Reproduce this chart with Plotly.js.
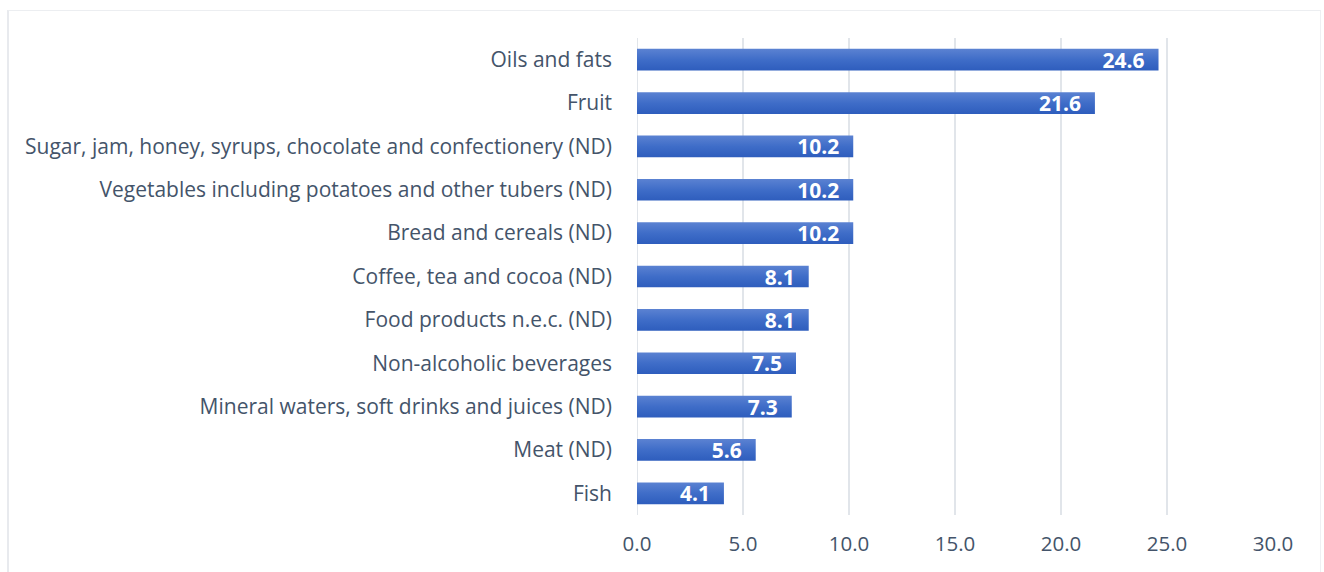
<!DOCTYPE html>
<html><head><meta charset="utf-8">
<script src="https://cdn.plot.ly/plotly-3.0.1.min.js"></script>
<style>
html,body{margin:0;padding:0;background:#fff;}
#frame{position:absolute;left:7px;top:10px;width:1311px;height:700px;border-left:2px solid #E8EAEE;border-top:1.5px solid #ECEEF1;border-right:1.5px solid #EEF0F3;}
#chart{position:absolute;left:0;top:0;width:1324px;height:572px;}
</style></head>
<body>
<div id="frame"></div>
<div id="chart"></div>
<script>
var categories = ["Oils and fats","Fruit","Sugar, jam, honey, syrups, chocolate and confectionery (ND)","Vegetables including potatoes and other tubers (ND)","Bread and cereals (ND)","Coffee, tea and cocoa (ND)","Food products n.e.c. (ND)","Non-alcoholic beverages","Mineral waters, soft drinks and juices (ND)","Meat (ND)","Fish"];
var values = [24.6,21.6,10.2,10.2,10.2,8.1,8.1,7.5,7.3,5.6,4.1];
var tickVals = [0,5,10,15,20,25,30];
var tickText = ["0.0","5.0","10.0","15.0","20.0","25.0","30.0"];

var font = "'Open Sans', sans-serif";
var trace = {
  type:'bar', orientation:'h', x: values, y: categories,
  marker:{color:'#4472C4'},
  width:0.5,
  text: values.map(function(v){return v.toFixed(1) + '\u00a0\u00a0';}),
  textposition:'inside', insidetextanchor:'end', constraintext:'none',
  textfont:{family:font, size:21, color:'#ffffff', weight:'bold'},
  hoverinfo:'none', cliponaxis:false
};
var layout = {
  width:1324, height:572,
  margin:{l:637, r:51, t:38, b:57},
  paper_bgcolor:'rgba(0,0,0,0)', plot_bgcolor:'rgba(0,0,0,0)',
  showlegend:false,
  bargap:0.5,
  xaxis:{range:[0,30], tickvals:tickVals, ticktext:tickText, showgrid:true, gridcolor:'#E1E5EA', gridwidth:2,
         zeroline:false, showline:false, ticks:'', ticklabelstandoff:14,
         tickfont:{family:font, size:20.5, color:'#44546A'}},
  yaxis:{autorange:'reversed', showgrid:false, zeroline:false, showline:false, ticks:'', ticklabelstandoff:24,
         tickfont:{family:font, size:21, color:'#44546A'}},
  shapes:[{type:'line', xref:'x', yref:'paper', x0:0, x1:0, y0:0, y1:1, line:{color:'#E1E5EA', width:2}, layer:'below'}]
};
Plotly.newPlot('chart',[trace],layout,{staticPlot:true}).then(function(gd){
  var svg = gd.querySelector('svg.main-svg');
  var ns='http://www.w3.org/2000/svg';
  var defs = svg.querySelector('defs') || svg.insertBefore(document.createElementNS(ns,'defs'), svg.firstChild);
  var lg = document.createElementNS(ns,'linearGradient');
  lg.setAttribute('id','barGrad'); lg.setAttribute('x1','0'); lg.setAttribute('y1','0'); lg.setAttribute('x2','0'); lg.setAttribute('y2','1');
  [['0','#5B82D2'],['0.5','#3F6DC8'],['1','#2E5DBD']].forEach(function(s){
    var st=document.createElementNS(ns,'stop'); st.setAttribute('offset',s[0]); st.setAttribute('stop-color',s[1]); lg.appendChild(st);
  });
  defs.appendChild(lg);
  gd.querySelectorAll('.bars .point path').forEach(function(p){ p.style.fill='url(#barGrad)'; });
});
</script>
</body></html>
